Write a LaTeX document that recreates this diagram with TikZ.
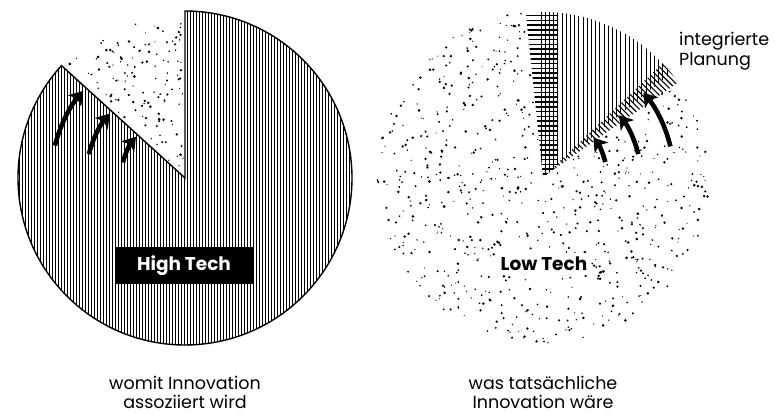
\documentclass[tikz,border=0pt]{standalone}
\usepackage{fontspec}
\setmainfont{Poppins}
\usetikzlibrary{arrows.meta}

\begin{document}
\begin{tikzpicture}[x=1pt,y=1pt,
  hatchline/.style={line width=0.9pt},
  bigarrow/.style={line width=4.6pt,
    -{Stealth[length=13pt,width=17pt,inset=3.5pt]}},
  caption/.style={font=\fontsize{17.5}{19}\selectfont, align=center, inner sep=0pt},
  dot/.style={fill=black},
]
\useasboundingbox (0,0) rectangle (775,414);

% ---------- left pie: high tech ----------
\coordinate (L) at (185,236);
\def\Lr{167}
\def\La{137.7}
\begin{scope}
  \clip (L) -- ++(\La:\Lr) arc[start angle=\La,end angle=450,radius=\Lr] -- cycle;
  \foreach \x in {16,19,...,355} \draw[hatchline] (\x,60) -- (\x,410);
\end{scope}
\draw[line width=1.4pt,line join=miter]
  (L) -- ++(\La:\Lr) arc[start angle=\La,end angle=450,radius=\Lr] -- cycle;

% stipple in the open wedge
\pgfmathsetseed{11}
\foreach \i in {1,...,125}{
  \pgfmathsetmacro\a{91.5+rnd*44.5}
  \pgfmathsetmacro\r{12+152*sqrt(rnd)}
  \pgfmathsetmacro\s{0.6+0.9*rnd}
  \fill[dot] (L) ++(\a:\r) circle[radius=\s];
}

% arrows pushing into the wedge
\draw[bigarrow] (L) ++(166:134) arc[start angle=166,end angle=139.5,radius=134];
\draw[bigarrow] (L) ++(166:99)  arc[start angle=166,end angle=139.5,radius=99];
\draw[bigarrow] (L) ++(166:64)  arc[start angle=166,end angle=140,radius=64];

\node[fill=black,text=white,font=\fontsize{18.5}{20}\selectfont\bfseries,
  minimum width=138pt,minimum height=37pt,inner sep=0pt] (high) at (184,148.5) {High Tech};

% ---------- right pie: low tech ----------
\coordinate (R) at (543,237);
\def\Rr{165}
\pgfmathsetseed{5}
\foreach \i in {1,...,720}{
  \pgfmathsetmacro\a{97+rnd*298}
  \pgfmathsetmacro\r{4+162*sqrt(rnd)}
  \pgfmathsetmacro\s{0.55+0.9*rnd}
  \fill[dot] (R) ++(\a:\r) circle[radius=\s];
}

% planning wedge: vertical hatching
\begin{scope}
  \clip (R) -- ++(39:\Rr) arc[start angle=39,end angle=96,radius=\Rr] -- cycle;
  \clip (541,200) rectangle (720,414);
  \foreach \x in {541,545.2,...,712} \draw[hatchline] (\x,230) -- (\x,410);
\end{scope}
% horizontal hatching along its left edge
\begin{scope}
  \clip (R) -- ++(36:\Rr) arc[start angle=36,end angle=96,radius=\Rr] -- cycle;
  \clip (500,230) rectangle (558,414);
  \foreach \y in {240,244.8,...,405} \draw[line width=1.5pt] (515,\y) -- (560,\y);
\end{scope}
% diagonal fringe along its lower edge
\begin{scope}
  \clip (R) -- ++(35:\Rr) arc[start angle=35,end angle=43.5,radius=\Rr] -- cycle;
  \foreach \k in {780,785.66,...,1020} \draw[line width=1.1pt] (\k-420,420) -- (\k-200,200);
\end{scope}

\draw[bigarrow] (R) ++(13.5:64)  arc[start angle=13.5,end angle=38,radius=64];
\draw[bigarrow] (R) ++(13.5:98)  arc[start angle=13.5,end angle=39,radius=98];
\draw[bigarrow] (R) ++(13.5:131) arc[start angle=13.5,end angle=40,radius=131];

\node[fill=white,font=\fontsize{18.5}{20}\selectfont\bfseries,inner sep=4pt] (low) at (544,150) {Low Tech};

% ---------- captions ----------
\node[caption] (capL) at (185,22) {womit Innovation\\assoziiert wird};
\node[caption] (capR) at (543,22) {was tatsächliche\\Innovation wäre};
\node[font=\fontsize{17.5}{20}\selectfont,align=left,inner sep=0pt,anchor=north west]
  (plan) at (679,382) {integrierte\\Planung};
\end{tikzpicture}
\end{document}
